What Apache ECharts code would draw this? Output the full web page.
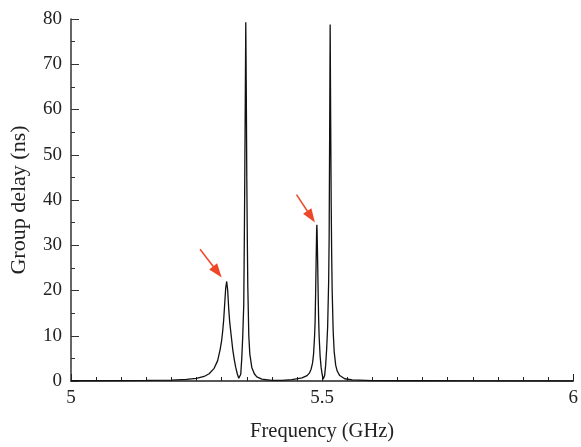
<!DOCTYPE html>
<html>
<head>
<meta charset="utf-8">
<script src="https://cdn.jsdelivr.net/npm/echarts@6/dist/echarts.min.js"></script>
<style>html,body{margin:0;padding:0;background:#fff;overflow:hidden}#c{width:581px;height:447px}</style>
</head>
<body>
<div id="c"></div>
<script>
// Frequency (GHz)
var freq = [
  5.000, 5.100, 5.150, 5.200, 5.230, 5.250, 5.265, 5.275, 5.285, 5.292,
  5.297, 5.300, 5.302, 5.304, 5.306, 5.308, 5.310, 5.312, 5.314, 5.316,
  5.318, 5.320, 5.322, 5.325, 5.328, 5.331, 5.334, 5.336, 5.338, 5.340,
  5.342, 5.344, 5.345, 5.346, 5.347, 5.348, 5.349, 5.350, 5.351, 5.352,
  5.354, 5.356, 5.360, 5.365, 5.370, 5.380, 5.400, 5.420, 5.440, 5.460,
  5.470, 5.475, 5.478, 5.481, 5.483, 5.485, 5.486, 5.487, 5.488, 5.489,
  5.4895, 5.490, 5.491, 5.492, 5.493, 5.494, 5.496, 5.498, 5.500, 5.502,
  5.503, 5.505, 5.507, 5.509, 5.511, 5.513, 5.514, 5.515, 5.516, 5.517,
  5.518, 5.519, 5.520, 5.522, 5.524, 5.527, 5.530, 5.535, 5.545, 5.560,
  5.600, 5.700, 5.800, 6.000
];
// Group delay (ns)
var delay = [
  0.05, 0.08, 0.12, 0.2, 0.35, 0.6, 1.0, 1.6, 2.8, 4.5,
  7.0, 9.0, 11.0, 13.5, 17.0, 20.5, 22.0, 20.0, 16.0, 13.0,
  11.0, 9.0, 7.0, 4.8, 3.0, 1.6, 0.6, 0.2, 1.5, 5.0,
  10.0, 17.0, 30.0, 45.0, 62.0, 79.3, 64.0, 45.0, 32.0, 21.0,
  10.0, 6.0, 3.0, 1.6, 0.9, 0.4, 0.15, 0.15, 0.3, 0.7,
  1.2, 1.8, 2.6, 4.0, 6.0, 10.0, 13.0, 19.0, 26.0, 33.0,
  34.5, 33.0, 27.0, 20.0, 14.0, 10.0, 5.5, 3.0, 1.5, 0.4,
  0.2, 1.2, 3.5, 7.0, 12.0, 22.0, 32.0, 55.0, 78.8, 58.0,
  40.0, 28.0, 20.0, 11.0, 6.5, 3.5, 2.2, 1.2, 0.5, 0.25,
  0.1, 0.05, 0.03, 0.0
];
// Annotation arrows pointing at the two smaller peaks: [freq, delay] of tail and head centre
var arrowFrom = [[5.257, 29.1], [5.449, 41.2]];
var arrowTo = [[5.2915, 24.1], [5.478, 36.3]];

var seriesData = freq.map(function (f, i) { return [f, delay[i]]; });
var arrowLines = arrowFrom.map(function (a, i) {
  return [{ coord: a }, { coord: arrowTo[i] }];
});

var font = '"Liberation Serif","Times New Roman",serif';
var chart = echarts.init(document.getElementById('c'), null, { renderer: 'canvas' });
chart.setOption({
  animation: false,
  backgroundColor: '#fff',
  grid: { left: 70, right: 5, top: 19, bottom: 60, containLabel: false },
  xAxis: {
    type: 'value', min: 5, max: 6, interval: 0.5,
    name: 'Frequency (GHz)', nameLocation: 'middle', nameGap: 40,
    nameTextStyle: { fontFamily: font, fontSize: 20.5, color: '#222' },
    axisLine: { show: true, onZero: false, lineStyle: { color: '#222', width: 1.5 } },
    axisTick: { show: true, inside: true, length: 7, lineStyle: { color: '#222', width: 1 } },
    minorTick: { show: true, splitNumber: 10, length: 4, lineStyle: { color: '#222', width: 1 } },
    axisLabel: { fontFamily: font, fontSize: 19, color: '#222', margin: 8,
      formatter: function (v) { return String(v); } },
    splitLine: { show: false }
  },
  yAxis: {
    type: 'value', min: 0, max: 80, interval: 10,
    name: 'Group delay (ns)', nameLocation: 'middle', nameGap: 41,
    nameTextStyle: { fontFamily: font, fontSize: 22, color: '#222' },
    axisLine: { show: true, lineStyle: { color: '#333', width: 1.5 } },
    axisTick: { show: true, inside: true, length: 8, lineStyle: { color: '#333', width: 1 } },
    minorTick: { show: true, splitNumber: 2, length: 4, lineStyle: { color: '#333', width: 1 } },
    axisLabel: { fontFamily: font, fontSize: 19, color: '#222', margin: 9 },
    splitLine: { show: false }
  },
  series: [{
    type: 'line',
    data: seriesData,
    showSymbol: false,
    smooth: false,
    lineStyle: { color: '#111', width: 1.3 },
    markLine: {
      silent: true,
      symbol: ['none', 'triangle'],
      symbolSize: [10, 14],
      label: { show: false },
      lineStyle: { color: '#ee4727', width: 1.5, type: 'solid' },
      itemStyle: { color: '#ee4727' },
      emphasis: { disabled: true },
      data: arrowLines
    }
  }]
});
</script>
</body>
</html>
